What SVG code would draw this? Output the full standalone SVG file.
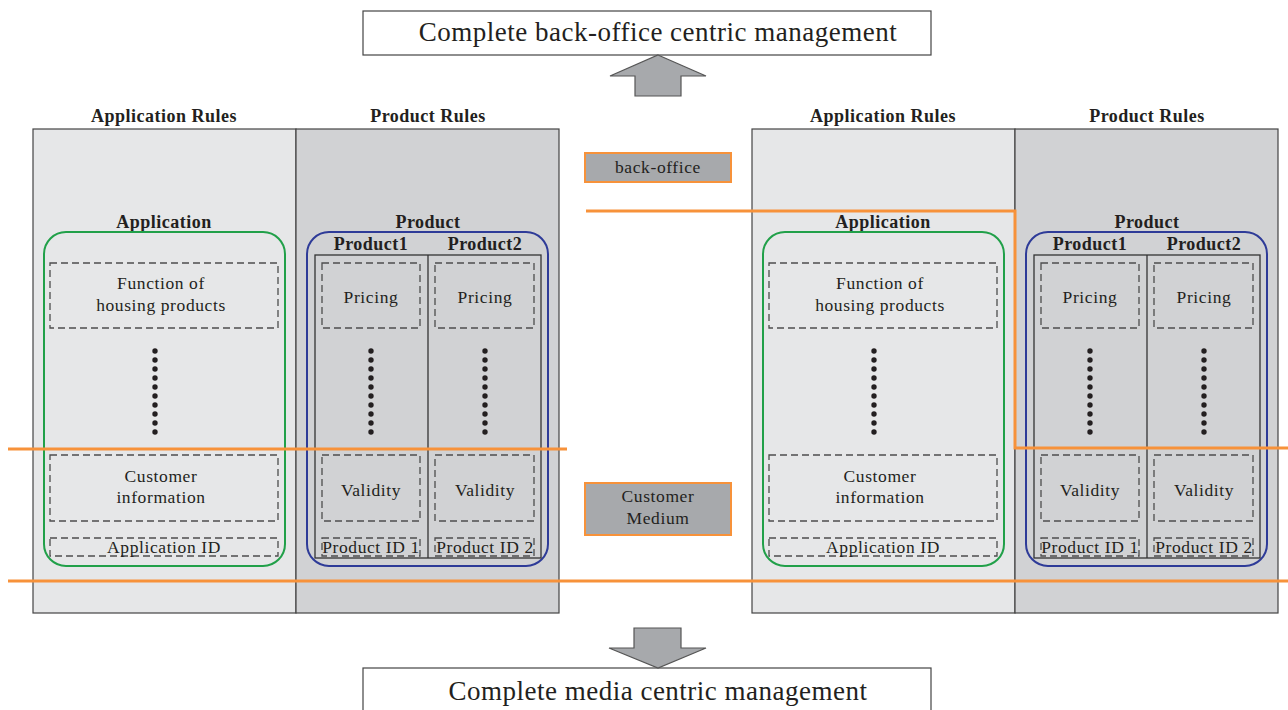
<svg xmlns="http://www.w3.org/2000/svg" width="1288" height="710" viewBox="0 0 1288 710">
  <style>
    text { font-family: "Liberation Serif", "DejaVu Serif", serif; fill: #231f20; text-anchor: middle; }
    .h { font-weight: bold; font-size: 18px; letter-spacing: 0.5px; }
    .t { font-size: 17.5px; letter-spacing: 0.6px; }
    .title { font-size: 27px; letter-spacing: 0.5px; }
    .paneA { fill: #e6e7e8; stroke: #444; stroke-width: 1.2; }
    .paneB { fill: #d1d2d4; stroke: #444; stroke-width: 1.2; }
    .dash { fill: none; stroke: #4d4d4d; stroke-width: 1.3; stroke-dasharray: 7 4; }
    .app { fill: none; stroke: #21a049; stroke-width: 2; }
    .prod { fill: none; stroke: #2e3b98; stroke-width: 2; }
    .col { fill: none; stroke: #333; stroke-width: 1.3; }
    .orange { fill: none; stroke: #f7923a; stroke-width: 3; }
    .tag { fill: #a7a9ac; stroke: #f7923a; stroke-width: 2; }
    .big { fill: #a7a9ac; stroke: #555; stroke-width: 1.2; }
    .frame { fill: #fff; stroke: #444; stroke-width: 1.2; }
  </style>
  <defs>
    <g id="dots">
      <circle cx="0" cy="0" r="2.7"/><circle cx="0" cy="9" r="2.7"/><circle cx="0" cy="18" r="2.7"/>
      <circle cx="0" cy="27" r="2.7"/><circle cx="0" cy="36" r="2.7"/><circle cx="0" cy="45" r="2.7"/>
      <circle cx="0" cy="54" r="2.7"/><circle cx="0" cy="63" r="2.7"/><circle cx="0" cy="72" r="2.7"/>
      <circle cx="0" cy="81" r="2.7"/>
    </g>
    <!-- one rule set: application half and product half -->
    <g id="ruleset">
      <rect class="paneA" x="33" y="129" width="263" height="484"/>
      <rect class="paneB" x="296" y="129" width="263" height="484"/>
      <text class="h" x="164" y="122">Application Rules</text>
      <text class="h" x="428" y="122">Product Rules</text>

      <text class="h" x="164" y="228">Application</text>
      <rect class="app" x="44" y="232" width="241" height="334" rx="22"/>
      <rect class="dash" x="50" y="263" width="228" height="65"/>
      <text class="t" x="161" y="289">Function of</text>
      <text class="t" x="161" y="311">housing products</text>
      <use href="#dots" x="155" y="351" fill="#231f20"/>
      <rect class="dash" x="50" y="455" width="228" height="66"/>
      <text class="t" x="161" y="482">Customer</text>
      <text class="t" x="161" y="503">information</text>
      <rect class="dash" x="50" y="538" width="228" height="18"/>
      <text class="t" x="164" y="553">Application ID</text>

      <text class="h" x="428" y="228">Product</text>
      <rect class="prod" x="307" y="232" width="241" height="334" rx="22"/>
      <text class="h" x="371" y="250">Product1</text>
      <text class="h" x="485" y="250">Product2</text>
      <rect class="col" x="315" y="255" width="226" height="303"/>
      <line class="col" x1="428" y1="255" x2="428" y2="558"/>
      <rect class="dash" x="322" y="263" width="98" height="65"/>
      <rect class="dash" x="435" y="263" width="99" height="65"/>
      <text class="t" x="371" y="303">Pricing</text>
      <text class="t" x="485" y="303">Pricing</text>
      <use href="#dots" x="371" y="351" fill="#231f20"/>
      <use href="#dots" x="485" y="351" fill="#231f20"/>
      <rect class="dash" x="322" y="455" width="98" height="66"/>
      <rect class="dash" x="435" y="455" width="99" height="66"/>
      <text class="t" x="371" y="496">Validity</text>
      <text class="t" x="485" y="496">Validity</text>
      <rect class="dash" x="322" y="538" width="98" height="18"/>
      <rect class="dash" x="435" y="538" width="99" height="18"/>
      <text class="t" x="371" y="553">Product ID 1</text>
      <text class="t" x="485" y="553">Product ID 2</text>
    </g>
  </defs>

  <g id="title-back-office">
    <rect class="frame" x="363" y="11" width="568" height="44"/>
    <text class="title" x="658" y="41">Complete back-office centric management</text>
  </g>

  <g id="title-media">
    <rect class="frame" x="363" y="668" width="568" height="50"/>
    <text class="title" x="658" y="700">Complete media centric management</text>
  </g>

  <g id="rules-media-centric">
    <use href="#ruleset"/>
  </g>

  <g id="rules-back-office-centric">
    <use href="#ruleset" x="719"/>
  </g>

  <g id="tag-back-office">
    <rect class="tag" x="585" y="153" width="146" height="29"/>
    <text class="t" x="658" y="173">back-office</text>
  </g>

  <g id="tag-customer-medium">
    <rect class="tag" x="585" y="483" width="146" height="52"/>
    <text class="t" x="658" y="502">Customer</text>
    <text class="t" x="658" y="524">Medium</text>
  </g>

  <g id="connectors">
    <!-- boundary lines between back-office and customer medium -->
    <polyline class="orange" points="586,211 1015,211 1015,448 1288,448"/>
    <line class="orange" x1="8" y1="449" x2="567" y2="449"/>
    <line class="orange" x1="8" y1="581" x2="1288" y2="581"/>
    <!-- shift arrows -->
    <polygon class="big" points="658,55 706,76 681,76 681,96 635,96 635,76 610,76"/>
    <polygon class="big" points="634,628 681,628 681,648 706,648 658,668 609,648 634,648"/>
  </g>
</svg>
